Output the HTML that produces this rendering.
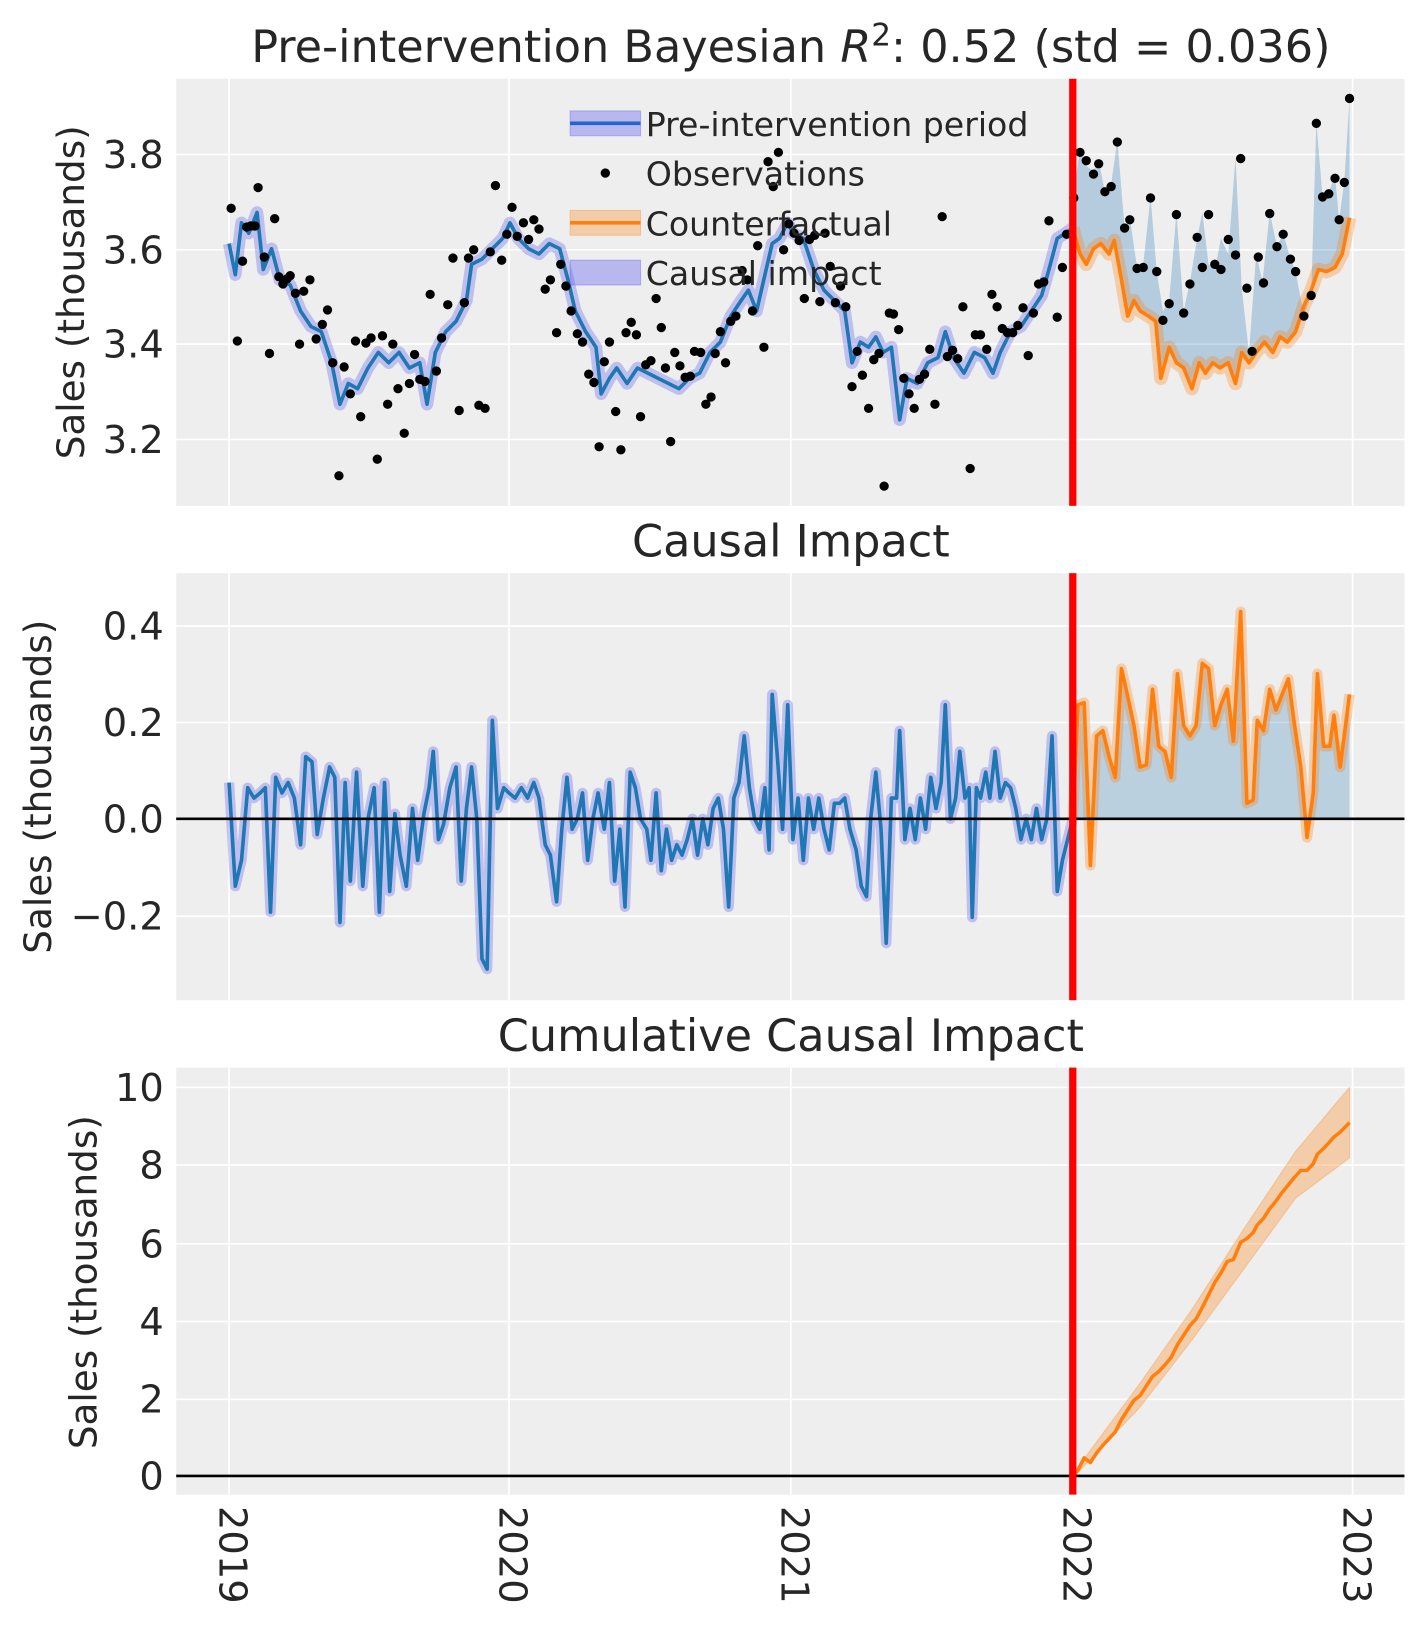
<!DOCTYPE html>
<html><head><meta charset="utf-8"><style>
body{margin:0;background:#fff}
svg text{font-family:"DejaVu Sans","Liberation Sans",sans-serif;fill:#262626}
</style></head><body>
<svg width="1423" height="1623" viewBox="0 0 1423 1623" xmlns="http://www.w3.org/2000/svg">
<defs>
<clipPath id="c1"><rect x="170" y="76" width="1185" height="412"/></clipPath>
<clipPath id="c2"><rect x="170" y="553" width="1185" height="412"/></clipPath>
<clipPath id="c3"><rect x="170" y="1030" width="1185" height="412"/></clipPath>
</defs>
<g transform="scale(1.0365)">
<rect x="170" y="76" width="1185" height="412" fill="#eeeeee"/>
<rect x="170" y="553" width="1185" height="412" fill="#eeeeee"/>
<rect x="170" y="1030" width="1185" height="412" fill="#eeeeee"/>
<g stroke="#fff" stroke-width="1.6">
<path d="M170 149H1355M170 241H1355M170 332H1355M170 424H1355"/>
<path d="M170 604H1355M170 697H1355M170 790H1355M170 884H1355"/>
<path d="M170 1049H1355M170 1124H1355M170 1200H1355M170 1275H1355M170 1350H1355M170 1424H1355"/>
<path d="M221 76V488M491 76V488M763 76V488M1035 76V488M1305 76V488"/>
<path d="M221 553V965M491 553V965M763 553V965M1035 553V965M1305 553V965"/>
<path d="M221 1030V1442M491 1030V1442M763 1030V1442M1035 1030V1442M1305 1030V1442"/>
</g>

<!-- Panel 1 -->
<g clip-path="url(#c1)" fill="none" stroke-linejoin="round">
<polyline stroke="#6666ee" stroke-opacity="0.35" stroke-width="12" points="221,235 227,265 233,215 240,225 248,205 254,260 262,240 270,270 280,275 290,300 300,315 310,320 320,350 328,390 336,370 345,375 355,355 365,340 375,350 385,340 395,355 405,350 412,390 420,340 430,320 440,310 450,290 455,255 465,250 475,240 485,230 492,215 500,230 510,240 520,245 530,235 540,240 548,270 555,300 565,320 575,335 580,380 588,365 595,355 605,370 615,355 625,360 635,365 645,370 655,375 665,365 675,360 685,340 695,330 705,305 715,290 722,280 730,300 738,265 745,235 752,230 760,215 765,225 775,230 785,260 795,280 805,290 815,300 822,350 830,330 838,335 845,325 852,340 860,335 868,405 875,365 885,370 895,350 905,345 912,320 920,345 930,360 940,340 950,345 958,360 965,340 975,320 985,315 995,300 1005,285 1012,260 1020,230 1028,225 1035,220"/>
<polyline stroke="#1f77b4" stroke-width="3.5" points="221,235 227,265 233,215 240,225 248,205 254,260 262,240 270,270 280,275 290,300 300,315 310,320 320,350 328,390 336,370 345,375 355,355 365,340 375,350 385,340 395,355 405,350 412,390 420,340 430,320 440,310 450,290 455,255 465,250 475,240 485,230 492,215 500,230 510,240 520,245 530,235 540,240 548,270 555,300 565,320 575,335 580,380 588,365 595,355 605,370 615,355 625,360 635,365 645,370 655,375 665,365 675,360 685,340 695,330 705,305 715,290 722,280 730,300 738,265 745,235 752,230 760,215 765,225 775,230 785,260 795,280 805,290 815,300 822,350 830,330 838,335 845,325 852,340 860,335 868,405 875,365 885,370 895,350 905,345 912,320 920,345 930,360 940,340 950,345 958,360 965,340 975,320 985,315 995,300 1005,285 1012,260 1020,230 1028,225 1035,220"/>
<polygon fill="#1f77b4" fill-opacity="0.28" stroke="none" points="1035,190 1042,145 1048,160 1055,165 1060,155 1066,185 1072,178 1078,135 1085,220 1090,210 1097,258 1103,255 1110,190 1116,262 1122,300 1128,290 1135,205 1142,300 1148,272 1155,230 1160,205 1166,255 1172,260 1178,230 1185,245 1192,152 1198,278 1205,340 1212,245 1218,272 1225,205 1232,238 1238,225 1245,250 1250,262 1258,305 1265,285 1270,118 1276,190 1282,185 1288,170 1292,212 1297,175 1302,95 1302,210 1295,245 1288,258 1280,262 1272,260 1265,280 1258,295 1250,320 1242,330 1235,325 1228,340 1220,330 1212,340 1205,350 1198,340 1192,370 1185,350 1177,355 1170,350 1163,360 1157,350 1150,375 1142,355 1135,350 1128,335 1120,365 1115,310 1108,305 1100,300 1094,290 1088,305 1082,270 1075,232 1070,245 1062,235 1055,240 1048,255 1042,245 1035,220"/>
<polyline stroke="#ff7f0e" stroke-opacity="0.3" stroke-width="13" points="1035,220 1042,245 1048,255 1055,240 1062,235 1070,245 1075,232 1082,270 1088,305 1094,290 1100,300 1108,305 1115,310 1120,365 1128,335 1135,350 1142,355 1150,375 1157,350 1163,360 1170,350 1177,355 1185,350 1192,370 1198,340 1205,350 1212,340 1220,330 1228,340 1235,325 1242,330 1250,320 1258,295 1265,280 1272,260 1280,262 1288,258 1295,245 1302,210"/>
<polyline stroke="#ff7f0e" stroke-width="3.5" points="1035,220 1042,245 1048,255 1055,240 1062,235 1070,245 1075,232 1082,270 1088,305 1094,290 1100,300 1108,305 1115,310 1120,365 1128,335 1135,350 1142,355 1150,375 1157,350 1163,360 1170,350 1177,355 1185,350 1192,370 1198,340 1205,350 1212,340 1220,330 1228,340 1235,325 1242,330 1250,320 1258,295 1265,280 1272,260 1280,262 1288,258 1295,245 1302,210"/>
<path stroke="#000" stroke-width="9" stroke-linecap="round" d="M223 201h0M229 329h0M234 252h0M238 219h0M242 218h0M246 218h0M249 181h0M255 248h0M260 341h0M265 211h0M269 267h0M273 274h0M277 269h0M280 266h0M285 283h0M289 332h0M293 281h0M299 270h0M305 327h0M311 313h0M316 299h0M321 350h0M327 459h0M332 354h0M338 380h0M343 329h0M348 402h0M353 331h0M358 326h0M364 443h0M369 324h0M374 390h0M379 332h0M384 375h0M390 418h0M395 370h0M400 342h0M405 366h0M410 368h0M415 284h0M421 358h0M426 326h0M432 294h0M437 249h0M443 396h0M448 292h0M452 249h0M457 241h0M462 391h0M468 394h0M473 243h0M478 179h0M484 251h0M489 226h0M494 200h0M499 228h0M505 215h0M510 231h0M515 212h0M520 221h0M526 279h0M531 270h0M537 321h0M541 255h0M546 276h0M551 300h0M557 322h0M562 330h0M568 361h0M573 369h0M578 431h0M583 349h0M588 330h0M594 397h0M599 434h0M604 321h0M609 311h0M614 323h0M618 402h0M623 352h0M628 348h0M633 288h0M638 316h0M642 355h0M647 426h0M651 340h0M656 353h0M661 364h0M666 363h0M670 339h0M676 340h0M681 390h0M686 383h0M690 341h0M695 320h0M700 350h0M705 310h0M710 305h0M716 261h0M721 270h0M726 300h0M731 237h0M737 335h0M741 156h0M746 180h0M751 147h0M756 241h0M761 216h0M766 225h0M771 232h0M776 288h0M781 231h0M786 227h0M791 291h0M796 225h0M801 257h0M806 292h0M811 276h0M816 296h0M822 373h0M827 339h0M832 362h0M838 394h0M843 347h0M848 341h0M853 469h0M858 302h0M862 303h0M867 318h0M872 365h0M877 380h0M882 394h0M887 366h0M892 361h0M897 337h0M902 390h0M909 209h0M914 344h0M919 338h0M924 346h0M929 296h0M936 452h0M941 323h0M946 323h0M952 337h0M957 284h0M962 296h0M967 317h0M972 321h0M977 321h0M982 314h0M987 297h0M992 343h0M997 302h0M1002 274h0M1007 272h0M1012 213h0M1020 306h0M1025 258h0M1029 226h0M1036 191h0M1042 147h0M1048 155h0M1055 168h0M1060 158h0M1066 185h0M1072 180h0M1078 137h0M1085 220h0M1090 212h0M1097 259h0M1103 258h0M1110 191h0M1116 262h0M1122 309h0M1128 293h0M1135 207h0M1142 302h0M1148 274h0M1155 229h0M1160 258h0M1166 207h0M1172 255h0M1178 260h0M1185 231h0M1192 246h0M1197 153h0M1203 278h0M1208 339h0M1214 248h0M1219 273h0M1225 206h0M1232 238h0M1238 226h0M1245 250h0M1250 262h0M1258 305h0M1265 285h0M1270 119h0M1276 190h0M1282 187h0M1288 172h0M1292 212h0M1297 176h0M1302 95h0"/>
</g>
<rect x="1031.5" y="76" width="7" height="412" fill="#ff0000"/>
<!-- legend -->
<rect x="550" y="107" width="68" height="24" fill="#6666ee" fill-opacity="0.4" stroke="#6666ee" stroke-opacity="0.4"/>
<line x1="550" y1="119" x2="618" y2="119" stroke="#2166c8" stroke-width="3.5"/>
<circle cx="584" cy="167" r="4.5" fill="#000"/>
<rect x="550" y="203" width="68" height="24" fill="#ff7f0e" fill-opacity="0.3" stroke="#ff7f0e" stroke-opacity="0.3"/>
<line x1="550" y1="215" x2="618" y2="215" stroke="#ff7f0e" stroke-width="3.5"/>
<rect x="550" y="251" width="68" height="24" fill="#6666ee" fill-opacity="0.4" stroke="#6666ee" stroke-opacity="0.4"/>
<g font-size="32"><text x="623" y="131">Pre-intervention period</text><text x="623" y="179">Observations</text><text x="623" y="227">Counterfactual</text><text x="623" y="275">Causal impact</text></g>

<!-- Panel 2 -->
<g clip-path="url(#c2)" fill="none" stroke-linejoin="round">
<polyline stroke="#6666ee" stroke-opacity="0.35" stroke-width="10" points="221,755 227,855 233,830 239,760 245,770 251,765 256,760 261,880 266,750 272,765 278,755 284,770 290,815 295,730 301,735 306,805 312,770 318,740 323,750 328,890 333,755 338,850 344,745 350,855 355,790 361,760 366,880 371,755 376,860 381,785 386,825 392,855 398,780 403,830 409,785 414,760 418,725 423,810 428,795 434,760 440,740 445,850 450,780 455,740 460,790 465,925 470,935 475,695 480,780 486,760 491,765 497,770 503,760 509,770 515,755 520,770 526,815 531,825 537,870 542,800 547,750 552,800 557,790 562,765 567,830 572,790 577,765 583,800 588,755 593,850 598,800 603,875 608,745 613,760 618,790 624,800 628,830 633,765 638,840 643,800 648,830 653,815 658,825 663,810 668,790 673,825 678,790 683,815 688,780 693,770 698,800 703,875 708,770 713,755 718,710 723,760 728,790 733,800 738,760 742,820 745,670 750,730 755,800 760,680 765,810 770,770 775,830 780,770 785,800 790,770 795,800 800,820 805,775 810,775 815,770 820,800 826,820 831,855 836,865 840,790 845,745 850,800 855,910 860,770 865,770 868,705 873,810 878,780 883,810 888,770 893,800 898,750 903,780 908,755 912,680 917,790 922,770 926,725 931,770 935,760 938,885 942,760 946,770 951,745 955,770 960,725 965,770 970,755 975,760 980,780 985,810 990,790 995,810 1000,780 1005,810 1010,790 1015,710 1020,860 1025,830 1030,810 1035,790"/>
<polyline stroke="#1f77b4" stroke-width="3.5" points="221,755 227,855 233,830 239,760 245,770 251,765 256,760 261,880 266,750 272,765 278,755 284,770 290,815 295,730 301,735 306,805 312,770 318,740 323,750 328,890 333,755 338,850 344,745 350,855 355,790 361,760 366,880 371,755 376,860 381,785 386,825 392,855 398,780 403,830 409,785 414,760 418,725 423,810 428,795 434,760 440,740 445,850 450,780 455,740 460,790 465,925 470,935 475,695 480,780 486,760 491,765 497,770 503,760 509,770 515,755 520,770 526,815 531,825 537,870 542,800 547,750 552,800 557,790 562,765 567,830 572,790 577,765 583,800 588,755 593,850 598,800 603,875 608,745 613,760 618,790 624,800 628,830 633,765 638,840 643,800 648,830 653,815 658,825 663,810 668,790 673,825 678,790 683,815 688,780 693,770 698,800 703,875 708,770 713,755 718,710 723,760 728,790 733,800 738,760 742,820 745,670 750,730 755,800 760,680 765,810 770,770 775,830 780,770 785,800 790,770 795,800 800,820 805,775 810,775 815,770 820,800 826,820 831,855 836,865 840,790 845,745 850,800 855,910 860,770 865,770 868,705 873,810 878,780 883,810 888,770 893,800 898,750 903,780 908,755 912,680 917,790 922,770 926,725 931,770 935,760 938,885 942,760 946,770 951,745 955,770 960,725 965,770 970,755 975,760 980,780 985,810 990,790 995,810 1000,780 1005,810 1010,790 1015,710 1020,860 1025,830 1030,810 1035,790"/>
<polygon fill="#1f77b4" fill-opacity="0.25" stroke="none" points="1035,790 1040,680 1046,678 1052,790 1058,710 1064,705 1070,730 1076,750 1082,645 1088,672 1094,700 1100,740 1106,738 1112,665 1118,720 1124,725 1130,750 1136,650 1142,700 1148,710 1154,700 1160,640 1166,645 1172,700 1178,680 1184,665 1190,715 1197,590 1203,775 1209,772 1213,695 1219,705 1225,665 1231,685 1237,670 1243,655 1249,700 1255,740 1261,790 1267,765 1271,650 1277,720 1283,720 1287,690 1293,740 1302,670 1302,790"/>
<polyline stroke="#ff7f0e" stroke-opacity="0.3" stroke-width="10" points="1035,790 1040,680 1046,678 1052,835 1058,710 1064,705 1070,730 1076,750 1082,645 1088,672 1094,700 1100,740 1106,738 1112,665 1118,720 1124,725 1130,750 1136,650 1142,700 1148,710 1154,700 1160,640 1166,645 1172,700 1178,680 1184,665 1190,715 1197,590 1203,775 1209,772 1213,695 1219,705 1225,665 1231,685 1237,670 1243,655 1249,700 1255,740 1261,808 1267,765 1271,650 1277,720 1283,720 1287,690 1293,740 1302,670"/>
<polyline stroke="#ff7f0e" stroke-width="3.5" points="1035,790 1040,680 1046,678 1052,835 1058,710 1064,705 1070,730 1076,750 1082,645 1088,672 1094,700 1100,740 1106,738 1112,665 1118,720 1124,725 1130,750 1136,650 1142,700 1148,710 1154,700 1160,640 1166,645 1172,700 1178,680 1184,665 1190,715 1197,590 1203,775 1209,772 1213,695 1219,705 1225,665 1231,685 1237,670 1243,655 1249,700 1255,740 1261,808 1267,765 1271,650 1277,720 1283,720 1287,690 1293,740 1302,670"/>
</g>
<line x1="170" y1="790" x2="1355" y2="790" stroke="#000" stroke-width="2.5"/>
<rect x="1031.5" y="553" width="7" height="412" fill="#ff0000"/>

<!-- Panel 3 -->
<g clip-path="url(#c3)" fill="none" stroke-linejoin="round">
<g transform="translate(0,1424) scale(1,0.924) translate(0,-1424)">
<polygon fill="#ff7f0e" fill-opacity="0.3" stroke="#ff7f0e" stroke-opacity="0.3" points="1035,1422 1100,1327 1150,1250 1200,1166 1250,1085 1302,1018 1302,1092 1250,1134 1200,1208 1150,1282 1100,1352 1035,1426"/>
<polyline stroke="#ff7f0e" stroke-width="3.5" points="1035,1424 1040,1418 1046,1405 1052,1410 1058,1400 1064,1392 1070,1385 1076,1378 1082,1365 1088,1355 1094,1345 1100,1340 1106,1330 1112,1320 1118,1315 1124,1308 1130,1300 1136,1287 1142,1277 1148,1267 1154,1260 1160,1248 1166,1235 1172,1222 1178,1212 1184,1200 1190,1198 1197,1180 1203,1176 1209,1170 1213,1162 1219,1155 1225,1145 1231,1137 1237,1128 1243,1120 1249,1112 1255,1105 1261,1105 1267,1098 1271,1088 1277,1082 1283,1075 1287,1070 1293,1065 1302,1055"/>
</g>
</g>
<line x1="170" y1="1424" x2="1355" y2="1424" stroke="#000" stroke-width="2.5"/>
<rect x="1031.5" y="1030" width="7" height="412" fill="#ff0000"/>

<!-- titles -->
<text x="763" y="60" font-size="43" text-anchor="middle">Pre-intervention Bayesian <tspan font-style="italic">R</tspan><tspan font-size="30" dy="-16">2</tspan><tspan dy="16">: 0.52 (std = 0.036)</tspan></text>
<text x="763" y="537" font-size="43" text-anchor="middle">Causal Impact</text>
<text x="763" y="1014" font-size="43" text-anchor="middle">Cumulative Causal Impact</text>

<!-- y tick labels -->
<g font-size="37" text-anchor="end">
<text x="158" y="162">3.8</text><text x="158" y="254">3.6</text><text x="158" y="345">3.4</text><text x="158" y="437">3.2</text>
<text x="158" y="617">0.4</text><text x="158" y="710">0.2</text><text x="158" y="803">0.0</text><text x="158" y="897">−0.2</text>
<text x="158" y="1062">10</text><text x="158" y="1137">8</text><text x="158" y="1213">6</text><text x="158" y="1288">4</text><text x="158" y="1363">2</text><text x="158" y="1437">0</text>
</g>
<!-- y labels -->
<g font-size="36" text-anchor="middle">
<text transform="translate(81,282) rotate(-90)">Sales (thousands)</text>
<text transform="translate(49,759) rotate(-90)">Sales (thousands)</text>
<text transform="translate(93,1237) rotate(-90)">Sales (thousands)</text>
</g>
<!-- x tick labels -->
<g font-size="37">
<text transform="translate(212,1453) rotate(90)">2019</text>
<text transform="translate(482,1453) rotate(90)">2020</text>
<text transform="translate(754,1453) rotate(90)">2021</text>
<text transform="translate(1026,1453) rotate(90)">2022</text>
<text transform="translate(1296,1453) rotate(90)">2023</text>
</g>
</g>
</svg>
</body></html>
